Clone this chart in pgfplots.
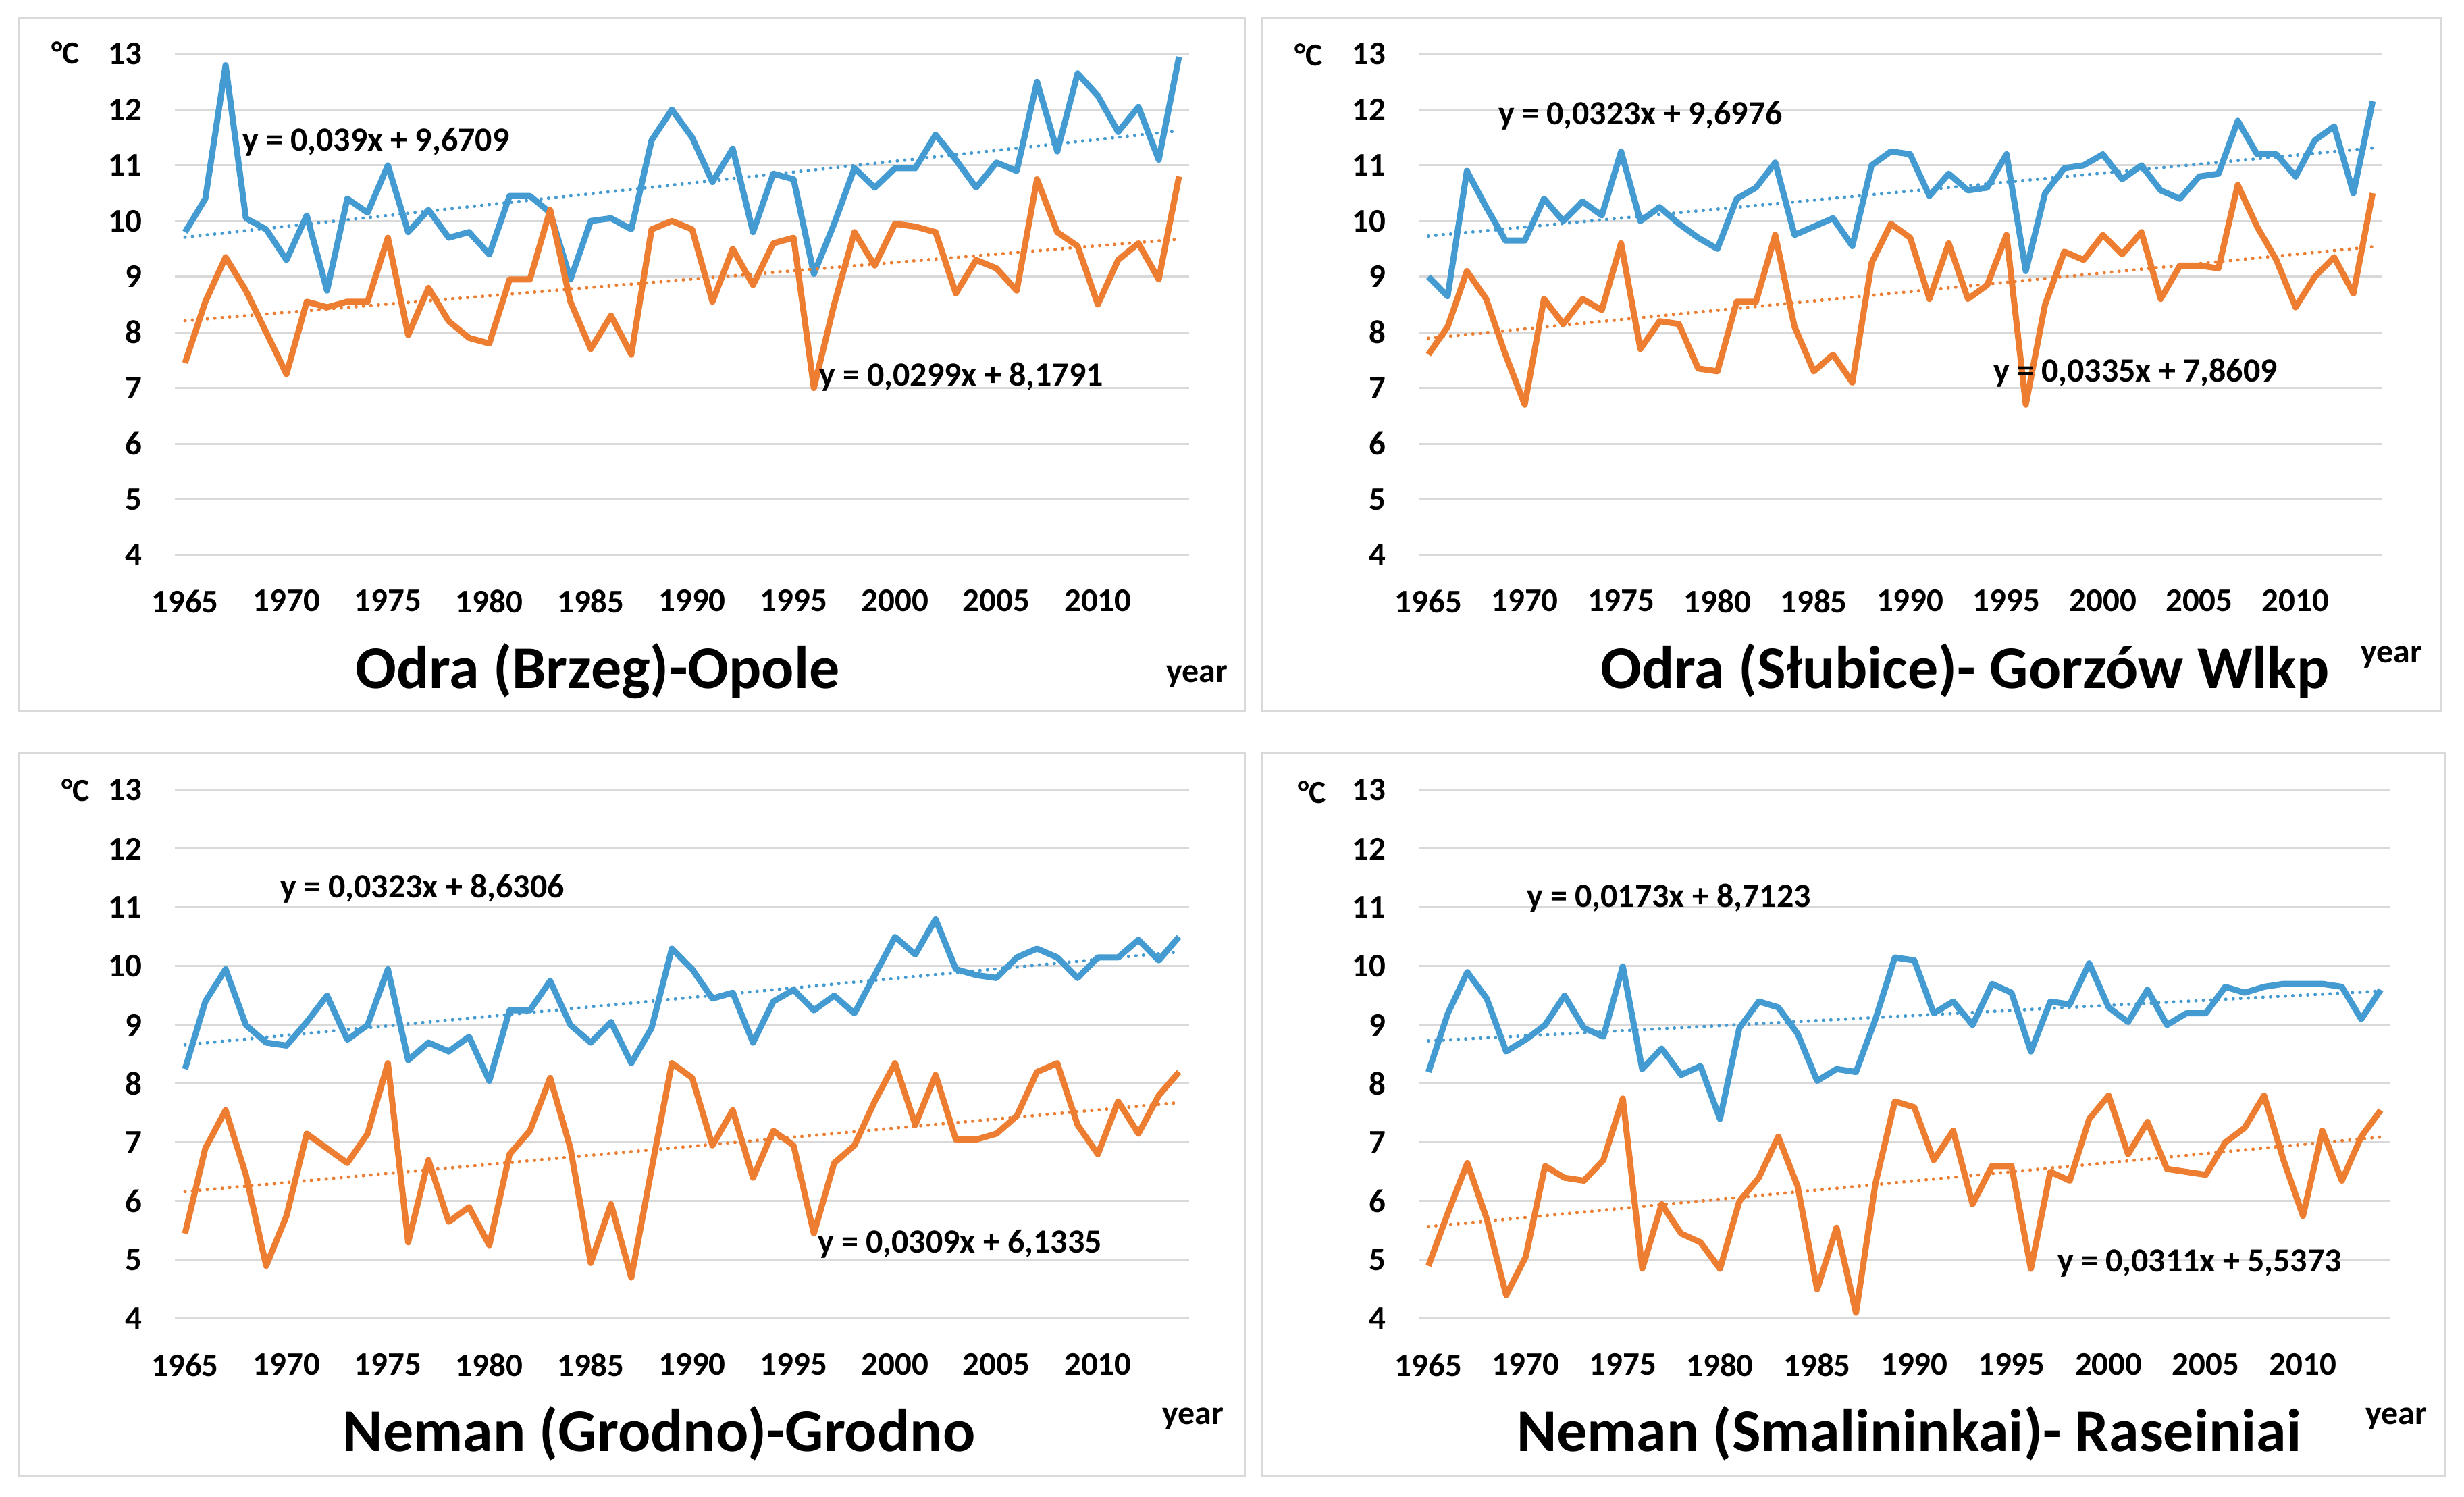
\documentclass[border=0pt]{standalone}
\usepackage{fontspec}
\setmainfont{Carlito}
\usepackage{pgfplots}
\usepackage{pgfplotstable}
\pgfplotsset{compat=1.18}

\definecolor{tblue}{RGB}{68,155,210}
\definecolor{torange}{RGB}{237,125,49}
\definecolor{gridgray}{RGB}{217,217,217}

% year, upper series (blue), lower series (orange)
\pgfplotstableread{
year b o
1965 9.8 7.45
1966 10.4 8.55
1967 12.8 9.35
1968 10.05 8.75
1969 9.85 8.0
1970 9.3 7.25
1971 10.1 8.55
1972 8.75 8.45
1973 10.4 8.55
1974 10.15 8.55
1975 11.0 9.7
1976 9.8 7.95
1977 10.2 8.8
1978 9.7 8.2
1979 9.8 7.9
1980 9.4 7.8
1981 10.45 8.95
1982 10.45 8.95
1983 10.15 10.2
1984 8.95 8.55
1985 10.0 7.7
1986 10.05 8.3
1987 9.85 7.6
1988 11.45 9.85
1989 12.0 10.0
1990 11.5 9.85
1991 10.7 8.55
1992 11.3 9.5
1993 9.8 8.85
1994 10.85 9.6
1995 10.75 9.7
1996 9.05 7.0
1997 9.95 8.5
1998 10.95 9.8
1999 10.6 9.2
2000 10.95 9.95
2001 10.95 9.9
2002 11.55 9.8
2003 11.1 8.7
2004 10.6 9.3
2005 11.05 9.15
2006 10.9 8.75
2007 12.5 10.75
2008 11.25 9.8
2009 12.65 9.55
2010 12.25 8.5
2011 11.6 9.3
2012 12.05 9.6
2013 11.1 8.95
2014 12.95 10.8
}\opole

\pgfplotstableread{
year b o
1965 9.0 7.6
1966 8.65 8.1
1967 10.9 9.1
1968 10.25 8.6
1969 9.65 7.6
1970 9.65 6.7
1971 10.4 8.6
1972 10.0 8.15
1973 10.35 8.6
1974 10.1 8.4
1975 11.25 9.6
1976 10.0 7.7
1977 10.25 8.2
1978 9.95 8.15
1979 9.7 7.35
1980 9.5 7.3
1981 10.4 8.55
1982 10.6 8.55
1983 11.05 9.75
1984 9.75 8.1
1985 9.9 7.3
1986 10.05 7.6
1987 9.55 7.1
1988 11.0 9.25
1989 11.25 9.95
1990 11.2 9.7
1991 10.45 8.6
1992 10.85 9.6
1993 10.55 8.6
1994 10.6 8.85
1995 11.2 9.75
1996 9.1 6.7
1997 10.5 8.5
1998 10.95 9.45
1999 11.0 9.3
2000 11.2 9.75
2001 10.75 9.4
2002 11.0 9.8
2003 10.55 8.6
2004 10.4 9.2
2005 10.8 9.2
2006 10.85 9.15
2007 11.8 10.65
2008 11.2 9.9
2009 11.2 9.3
2010 10.8 8.45
2011 11.45 9.0
2012 11.7 9.35
2013 10.5 8.7
2014 12.15 10.5
}\gorzow

\pgfplotstableread{
year b o
1965 8.25 5.45
1966 9.4 6.9
1967 9.95 7.55
1968 9.0 6.45
1969 8.7 4.9
1970 8.65 5.75
1971 9.05 7.15
1972 9.5 6.9
1973 8.75 6.65
1974 9.0 7.15
1975 9.95 8.35
1976 8.4 5.3
1977 8.7 6.7
1978 8.55 5.65
1979 8.8 5.9
1980 8.05 5.25
1981 9.25 6.8
1982 9.25 7.2
1983 9.75 8.1
1984 9.0 6.9
1985 8.7 4.95
1986 9.05 5.95
1987 8.35 4.7
1988 8.95 6.55
1989 10.3 8.35
1990 9.95 8.1
1991 9.45 6.95
1992 9.55 7.55
1993 8.7 6.4
1994 9.4 7.2
1995 9.6 6.95
1996 9.25 5.45
1997 9.5 6.65
1998 9.2 6.95
1999 9.85 7.7
2000 10.5 8.35
2001 10.2 7.3
2002 10.8 8.15
2003 9.95 7.05
2004 9.85 7.05
2005 9.8 7.15
2006 10.15 7.45
2007 10.3 8.2
2008 10.15 8.35
2009 9.8 7.3
2010 10.15 6.8
2011 10.15 7.7
2012 10.45 7.15
2013 10.1 7.8
2014 10.5 8.2
}\grodno

\pgfplotstableread{
year b o
1965 8.2 4.9
1966 9.2 5.8
1967 9.9 6.65
1968 9.45 5.7
1969 8.55 4.4
1970 8.75 5.05
1971 9.0 6.6
1972 9.5 6.4
1973 8.95 6.35
1974 8.8 6.7
1975 10.0 7.75
1976 8.25 4.85
1977 8.6 5.95
1978 8.15 5.45
1979 8.3 5.3
1980 7.4 4.85
1981 8.95 6.0
1982 9.4 6.4
1983 9.3 7.1
1984 8.85 6.25
1985 8.05 4.5
1986 8.25 5.55
1987 8.2 4.1
1988 9.1 6.3
1989 10.15 7.7
1990 10.1 7.6
1991 9.2 6.7
1992 9.4 7.2
1993 9.0 5.95
1994 9.7 6.6
1995 9.55 6.6
1996 8.55 4.85
1997 9.4 6.5
1998 9.35 6.35
1999 10.05 7.4
2000 9.3 7.8
2001 9.05 6.8
2002 9.6 7.35
2003 9.0 6.55
2004 9.2 6.5
2005 9.2 6.45
2006 9.65 7.0
2007 9.55 7.25
2008 9.65 7.8
2009 9.7 6.7
2010 9.7 5.75
2011 9.7 7.2
2012 9.65 6.35
2013 9.1 7.1
2014 9.6 7.55
}\raseiniai

\pgfplotsset{
  panel/.style={
    scale only axis=true,
    anchor=south west,
    xmin=1964.5, xmax=2014.5,
    ymin=4, ymax=13,
    xtick={1965,1970,...,2010},
    ytick={4,5,...,13},
    ymajorgrids=true,
    major grid style={gridgray, line width=0.6pt},
    axis line style={draw=none},
    major tick length=0pt,
    tick style={draw=none},
    clip=false,
    scaled x ticks=false,
    /pgf/number format/assume math mode=true,
    /pgf/number format/set thousands separator={},
    ticklabel style={font=\bfseries\fontsize{9.8}{11}\selectfont},
    yticklabel style={xshift=-6.3pt},
    xticklabel style={yshift=-6.8pt},
  },
  obs/.style={line width=1.8pt, line join=round},
  trend/.style={line width=1pt, dash pattern=on 0.01pt off 2.2pt, line cap=round},
}

\newcommand{\eqfont}{\bfseries\fontsize{10}{12}\selectfont}
\newcommand{\titlefont}{\bfseries\fontsize{18}{20}\selectfont}
\newcommand{\smallfont}{\bfseries\fontsize{10}{12}\selectfont}

\begin{document}
\begin{tikzpicture}
\path[use as bounding box, fill=white] (0pt,0pt) rectangle (729.8pt,443.4pt);

% panel frames
\draw[gridgray, line width=0.6pt] (5.4pt,232.6pt) rectangle (368.6pt,438pt);
\draw[gridgray, line width=0.6pt] (373.8pt,232.6pt) rectangle (723pt,438pt);
\draw[gridgray, line width=0.6pt] (5.4pt,6.2pt) rectangle (368.6pt,220.2pt);
\draw[gridgray, line width=0.6pt] (373.8pt,6.2pt) rectangle (724pt,220.2pt);

% Odra (Brzeg)-Opole
\begin{axis}[panel, at={(51.8pt,279pt)}, width=300.4pt, height=148.4pt]
\addplot[tblue, obs] table[x=year, y=b] {\opole};
\addplot[torange, obs] table[x=year, y=o] {\opole};
\addplot[tblue, trend] coordinates {(1965,9.7099) (2014,11.6209)};
\addplot[torange, trend] coordinates {(1965,8.2090) (2014,9.6741)};
\end{axis}

% Odra (Slubice)-Gorzow Wlkp
\begin{axis}[panel, at={(420.2pt,279pt)}, width=285.4pt, height=148.4pt]
\addplot[tblue, obs] table[x=year, y=b] {\gorzow};
\addplot[torange, obs] table[x=year, y=o] {\gorzow};
\addplot[tblue, trend] coordinates {(1965,9.7299) (2014,11.3126)};
\addplot[torange, trend] coordinates {(1965,7.8944) (2014,9.5359)};
\end{axis}

% Neman (Grodno)-Grodno
\begin{axis}[panel, at={(51.8pt,52.8pt)}, width=300.4pt, height=156.6pt]
\addplot[tblue, obs] table[x=year, y=b] {\grodno};
\addplot[torange, obs] table[x=year, y=o] {\grodno};
\addplot[tblue, trend] coordinates {(1965,8.6629) (2014,10.2456)};
\addplot[torange, trend] coordinates {(1965,6.1644) (2014,7.6785)};
\end{axis}

% Neman (Smalininkai)-Raseiniai
\begin{axis}[panel, at={(420.2pt,52.8pt)}, width=287.8pt, height=156.6pt]
\addplot[tblue, obs] table[x=year, y=b] {\raseiniai};
\addplot[torange, obs] table[x=year, y=o] {\raseiniai};
\addplot[tblue, trend] coordinates {(1965,8.7296) (2014,9.5773)};
\addplot[torange, trend] coordinates {(1965,5.5684) (2014,7.0923)};
\end{axis}

% trend equations
\begin{scope}[every node/.style={anchor=base west, inner sep=0pt, font=\eqfont}]
\node at (71.6pt,398.6pt) {y = 0,039x + 9,6709};
\node at (242.4pt,329.0pt) {y = 0,0299x + 8,1791};
\node at (443.6pt,406.4pt) {y = 0,0323x + 9,6976};
\node at (590.2pt,330.2pt) {y = 0,0335x + 7,8609};
\node at (82.8pt,177.4pt) {y = 0,0323x + 8,6306};
\node at (242.0pt,72.2pt) {y = 0,0309x + 6,1335};
\node at (452.0pt,174.6pt) {y = 0,0173x + 8,7123};
\node at (609.2pt,66.6pt) {y = 0,0311x + 5,5373};
\end{scope}

% titles
\begin{scope}[every node/.style={anchor=base, inner sep=0pt, font=\titlefont}]
\node at (177pt,239.4pt) {Odra (Brzeg)-Opole};
\node at (582pt,239.4pt) {Odra (Słubice)- Gorzów Wlkp};
\node at (195.2pt,13.4pt) {Neman (Grodno)-Grodno};
\node at (565.4pt,13.4pt) {Neman (Smalininkai)- Raseiniai};
\end{scope}

% axis labels
\begin{scope}[every node/.style={anchor=base east, inner sep=0pt, font=\smallfont}]
\node at (363.8pt,241.2pt) {year};
\node at (717.6pt,247.0pt) {year};
\node at (362.6pt,21.4pt) {year};
\node at (719pt,21.4pt) {year};
\end{scope}
\begin{scope}[every node/.style={inner sep=0pt, font=\bfseries\fontsize{9.5}{11}\selectfont}]
\node at (19.4pt,427.8pt) {°C};
\node at (387.6pt,427.2pt) {°C};
\node at (22.4pt,209.4pt) {°C};
\node at (388.6pt,208.8pt) {°C};
\end{scope}
\end{tikzpicture}
\end{document}
